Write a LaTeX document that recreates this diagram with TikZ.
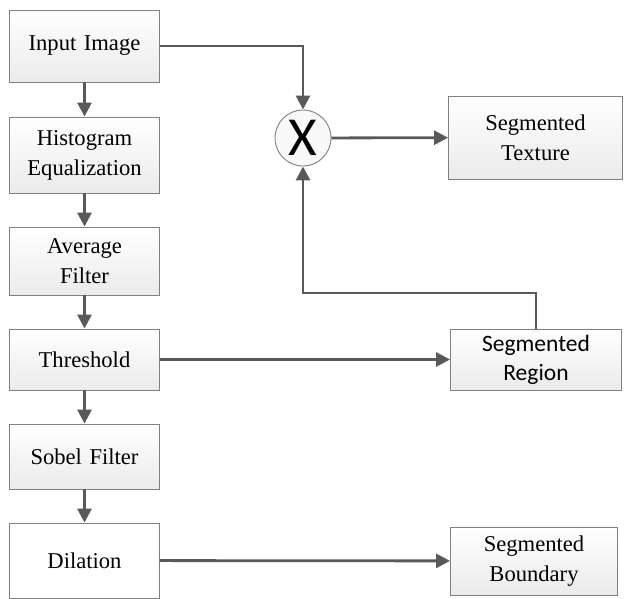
\documentclass[tikz,border=0pt]{standalone}
\usepackage{fontspec}
\setmainfont{Liberation Serif}
\newfontfamily\calib{Carlito}
\usetikzlibrary{arrows.meta,shadings}
\definecolor{arr}{RGB}{89,89,89}
\definecolor{bord}{RGB}{128,128,128}
\begin{document}
\begin{tikzpicture}[x=1pt,y=-1pt,
  box/.style={draw=bord,line width=0.9pt,top color=white,bottom color=gray!16,align=center,inner sep=0pt,
    font=\fontsize{22.6}{30}\selectfont,text width=#1},
  box/.default=150pt,
  conn/.style={draw=arr,line width=2.8pt,-{Triangle[length=14pt,width=14pt]}}]
\useasboundingbox (0,0) rectangle (624,599);
\node[box,minimum height=72pt] (in) at (84.5,46) {Input Image};
\node[box,minimum height=76pt] (hist) at (84.5,155) {Histogram\\Equalization};
\node[box,minimum height=68pt] (avg) at (84.5,261) {Average\\Filter};
\node[box,minimum height=61pt] (thr) at (84.5,359.5) {Threshold};
\node[box,minimum height=65pt] (sob) at (84.5,456.5) {Sobel Filter};
\node[box,minimum height=75pt,top color=white,bottom color=white] (dil) at (84.5,560.5) {Dilation};
\node[box=174pt,minimum height=83pt] (tex) at (535.5,137.5) {Segmented\\Texture};
\node[box=171pt,minimum height=61pt,font=\calib\fontsize{23.5}{29}\selectfont] (reg) at (536,359.5) {Segmented\\Region};
\node[box=167pt,minimum height=68pt] (bnd) at (534,561) {Segmented\\Boundary};
\node[circle,draw=bord,line width=0.9pt,fill=gray!5,minimum size=56pt,inner sep=0pt,font=\calib\fontsize{55}{55}\selectfont] (mul) at (303,138) {X};
\coordinate (bend) at (536,293);
\draw[conn] (in) -- (hist);
\draw[conn] (hist) -- (avg);
\draw[conn] (avg) -- (thr);
\draw[conn] (thr) -- (sob);
\draw[conn] (sob) -- (dil);
\draw[conn] (in.east) -| (mul.north);
\draw[conn] (reg.north) -- (bend) -| (mul.south);
\draw[conn] (mul) -- (tex);
\draw[conn] (thr) -- (reg);
\draw[conn] (dil) -- (bnd);
\end{tikzpicture}
\end{document}
